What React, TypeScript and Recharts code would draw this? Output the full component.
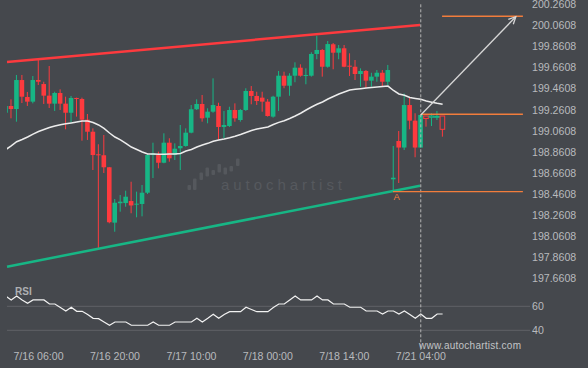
import React from 'react';
import { ComposedChart, Bar, Line, XAxis, YAxis, ReferenceLine, ReferenceDot } from 'recharts';

// hourly bars, index 0 = 7/16 06:00
const barIndex = Array.from({ length: 81 }, (_, k) => k - 6);

const open = [
  199.233, 199.297, 199.268, 199.543, 199.382, 199.338, 199.543, 199.505, 199.395, 199.319,
  199.420, 199.319, 199.233, 199.373, 199.363, 199.167, 199.053, 198.839, 198.830, 198.716,
  198.191, 198.375, 198.377, 198.396, 198.365, 198.368, 198.475, 198.832, 198.832, 198.759,
  198.949, 198.832, 198.896, 198.918, 199.044, 199.266, 199.316, 199.186, 199.243, 199.297,
  199.098, 199.107, 199.259, 199.164, 199.259, 199.439, 199.392, 199.376, 199.338, 199.196,
  199.385, 199.584, 199.489, 199.584, 199.660, 199.584, 199.584, 199.790, 199.828, 199.669,
  199.882, 199.802, 199.844, 199.679, 199.669, 199.600, 199.629, 199.537, 199.575, 199.612,
  199.527, 198.602, 198.965, 198.903, 199.306, 199.158, 198.903, 199.202, 199.190, 199.190,
  199.202,
];
const high = [
  199.316, 199.360, 199.591, 199.591, 199.430, 199.581, 199.738, 199.527, 199.676, 199.432,
  199.455, 199.385, 199.392, 199.376, 199.376, 199.221, 199.085, 198.934, 199.022, 198.719,
  198.415, 198.453, 198.494, 198.579, 198.485, 198.548, 198.842, 198.949, 198.864, 199.038,
  198.991, 198.943, 199.117, 199.085, 199.306, 199.360, 199.401, 199.275, 199.559, 199.328,
  199.250, 199.290, 199.322, 199.268, 199.465, 199.486, 199.432, 199.432, 199.363, 199.394,
  199.629, 199.622, 199.607, 199.711, 199.692, 199.654, 199.806, 199.963, 199.837, 199.913,
  199.894, 199.875, 199.875, 199.796, 199.733, 199.654, 199.638, 199.612, 199.638, 199.638,
  199.686, 198.918, 199.060, 199.415, 199.382, 199.228, 199.216, 199.202, 199.228, 199.250,
  199.202,
];
const low = [
  199.221, 199.180, 199.148, 199.325, 199.297, 199.322, 199.496, 199.316, 199.278, 199.250,
  199.259, 199.076, 199.139, 199.196, 198.968, 198.975, 198.690, 197.948, 198.662, 198.185,
  198.105, 198.295, 198.342, 198.280, 198.242, 198.251, 198.463, 198.614, 198.706, 198.754,
  198.769, 198.785, 198.690, 198.911, 199.038, 199.259, 199.148, 199.133, 199.233, 198.981,
  198.991, 199.098, 199.148, 199.148, 199.250, 199.313, 199.306, 199.243, 199.196, 199.186,
  199.250, 199.465, 199.394, 199.522, 199.575, 199.503, 199.575, 199.740, 199.575, 199.660,
  199.645, 199.740, 199.664, 199.581, 199.543, 199.480, 199.465, 199.480, 199.527, 199.480,
  199.496, 198.486, 198.567, 198.880, 199.076, 198.811, 198.903, 199.101, 199.107, 199.164,
  199.006,
];
const close = [
  199.297, 199.268, 199.543, 199.385, 199.338, 199.543, 199.527, 199.395, 199.319, 199.420,
  199.319, 199.233, 199.373, 199.363, 199.167, 199.053, 198.832, 198.830, 198.716, 198.195,
  198.380, 198.390, 198.437, 198.354, 198.371, 198.475, 198.832, 198.847, 198.759, 198.949,
  198.801, 198.892, 198.918, 199.044, 199.266, 199.316, 199.180, 199.243, 199.306, 199.098,
  199.117, 199.259, 199.180, 199.259, 199.439, 199.392, 199.344, 199.338, 199.202, 199.385,
  199.584, 199.489, 199.584, 199.660, 199.584, 199.591, 199.790, 199.828, 199.669, 199.884,
  199.802, 199.844, 199.669, 199.669, 199.600, 199.629, 199.537, 199.575, 199.612, 199.527,
  199.638, 198.617, 198.903, 199.306, 199.158, 198.903, 199.212, 199.178, 199.202, 199.199,
  199.076,
];
const movingAvg = [
  198.884, 198.918, 198.958, 198.979, 199.003, 199.031, 199.055, 199.074, 199.093, 199.107,
  199.120, 199.128, 199.136, 199.145, 199.155, 199.155, 199.140, 199.117, 199.084, 199.041,
  199.003, 198.975, 198.943, 198.908, 198.884, 198.861, 198.842, 198.842, 198.839, 198.839,
  198.842, 198.842, 198.847, 198.870, 198.884, 198.908, 198.927, 198.943, 198.962, 198.975,
  198.984, 198.996, 199.010, 199.027, 199.046, 199.065, 199.079, 199.088, 199.098, 199.121,
  199.142, 199.157, 199.178, 199.202, 199.228, 199.259, 199.287, 199.313, 199.335, 199.363,
  199.387, 199.411, 199.430, 199.449, 199.455, 199.461, 199.467, 199.472, 199.477, 199.482,
  199.486, 199.444, 199.411, 199.398, 199.377, 199.368, 199.360, 199.344, 199.333, 199.322,
  199.313,
];
const rsi = [
  68.6, 65.3, 68.6, 65.3, 62.5, 65.3, 65.3, 65.3, 61.9, 61.9,
  59.0, 56.1, 59.2, 55.8, 55.8, 53.1, 50.0, 49.7, 46.9, 44.2,
  46.9, 46.9, 46.9, 44.2, 44.2, 44.2, 44.2, 46.9, 44.2, 44.2,
  44.2, 46.9, 46.9, 46.9, 46.9, 50.0, 46.9, 50.0, 53.3, 50.0,
  53.2, 55.5, 55.5, 55.5, 59.2, 57.3, 55.5, 55.5, 55.5, 59.0,
  61.9, 61.9, 65.3, 68.6, 65.3, 65.3, 65.3, 68.6, 65.3, 65.3,
  61.9, 61.9, 61.9, 59.2, 59.2, 59.2, 56.1, 56.1, 56.1, 53.6,
  56.1, 56.1, 53.6, 56.1, 53.2, 50.0, 53.6, 50.0, 50.0, 53.6,
  53.6,
];

const timeTicks = [0, 14, 28, 42, 56, 70];
const timeLabels = ['7/16 06:00', '7/16 20:00', '7/17 10:00', '7/18 00:00', '7/18 14:00', '7/21 04:00'];
const priceTicks = [
  197.6608, 197.8608, 198.0608, 198.2608, 198.4608, 198.6608, 198.8608,
  199.0608, 199.2608, 199.4608, 199.6608, 199.8608, 200.0608, 200.2608,
];
const rsiLevels = [60, 40];

// channel / pattern lines (bar index, price)
const resistance = [{ x: -5.77, y: 199.714 }, { x: 69.87, y: 200.065 }];
const support = [{ x: -5.77, y: 197.774 }, { x: 69.87, y: 198.541 }];
const pointA = { x: 65.6, y: 198.4846 };
const targetLine = [{ x: 73.9, y: 200.147 }, { x: 88.7, y: 200.147 }];
const lastLine = [{ x: 70, y: 199.2182 }, { x: 88.7, y: 199.2182 }];
const aLine = [{ x: 64.9, y: 198.4846 }, { x: 88.7, y: 198.4846 }];
const arrow = [{ x: 70, y: 199.2116 }, { x: 87.4, y: 200.1433 }];
const nowBar = 70;

const data = barIndex.map((i, k) => ({
  i,
  open: open[k],
  high: high[k],
  low: low[k],
  close: close[k],
  ma: movingAvg[k],
  rsi: rsi[k],
}));

const BG = '#45484d';
const RED = '#fd3a3e';
const GREEN = '#17b685';
const ORANGE = '#f27d3c';
const LABEL = '#b8babd';

const Candle = (props: any) => {
  const { x, y, width, height, payload } = props;
  if (!payload) return null;
  const { open: o, close: c, high: h, low: l, i } = payload;
  const top = Math.min(y, y + height);
  const span = Math.abs(height) || 1;
  const px = (v: number) => top + ((h - v) / (h - l || 1)) * span;
  const up = c >= o;
  const color = up ? GREEN : RED;
  const cx = x + width / 2;
  const bTop = px(Math.max(o, c));
  const bBot = px(Math.min(o, c));
  const bw = 4.6;
  const hollow = i > nowBar;
  return (
    <g>
      <line x1={cx} x2={cx} y1={top} y2={top + span} stroke={color} strokeWidth={1} />
      <rect
        x={cx - bw / 2}
        y={bTop}
        width={bw}
        height={Math.max(bBot - bTop, 1)}
        fill={hollow ? BG : color}
        stroke={hollow ? color : 'none'}
        strokeWidth={1}
      />
    </g>
  );
};

const Arrow = (p: any) => {
  const { x1, y1, x2, y2 } = p;
  const ang = Math.atan2(y2 - y1, x2 - x1);
  const len = 8;
  const a1 = ang + Math.PI - 0.45;
  const a2 = ang + Math.PI + 0.45;
  return (
    <g stroke="#d6d6d6" strokeWidth={1.3} fill="none">
      <line x1={x1} y1={y1} x2={x2} y2={y2} />
      <polyline
        points={`${x2 + len * Math.cos(a1)},${y2 + len * Math.sin(a1)} ${x2},${y2} ${x2 + len * Math.cos(a2)},${y2 + len * Math.sin(a2)}`}
      />
    </g>
  );
};

const App: React.FC = () => {
  return (
    <div style={{ position: 'absolute', left: 0, top: 0, width: 588, height: 368, background: BG, fontFamily: '"Liberation Sans", Arial, sans-serif' }}>
      {/* watermark behind the chart */}
      <svg width={588} height={368} style={{ position: 'absolute', left: 0, top: 0 }}>
        <g fill="#55585d">
          <rect x={187.5} y={185} width={3.5} height={5} rx={1} />
          <rect x={193} y={178.5} width={3.5} height={11.5} rx={1} />
          <rect x={199.5} y={172.5} width={3.5} height={7.5} rx={1} />
          <rect x={205.5} y={167.5} width={3.5} height={9} rx={1} />
          <rect x={211.5} y={170} width={3.5} height={5} rx={1} />
          <rect x={217.5} y={164} width={3.5} height={8.5} rx={1} />
          <rect x={223.5} y={167.5} width={3.5} height={7} rx={1} />
          <rect x={229.5} y={166} width={3.5} height={5.5} rx={1} />
          <rect x={236} y={158.5} width={3.5} height={7.5} rx={1} />
        </g>
        <text x={221} y={190} fill="#56595e" fontSize={15} textLength={121} lengthAdjust="spacing">autochartist</text>
      </svg>
      <div style={{ position: 'absolute', left: 0, top: 0 }}>
        <ComposedChart width={588} height={368} data={data} margin={{ top: 0, right: 0, bottom: 0, left: 7 }}>
          <XAxis
            dataKey="i"
            type="number"
            domain={[-5.77, 90]}
            allowDataOverflow
            ticks={timeTicks}
            tickFormatter={(v: number) => timeLabels[timeTicks.indexOf(v)] ?? ''}
            axisLine={false}
            tickLine={false}
            tickSize={0}
            tickMargin={7}
            height={23}
            tick={{ fill: LABEL, fontSize: 10.6 }}
          />
          <YAxis
            yAxisId="p"
            orientation="right"
            domain={[197.0314, 200.3016]}
            allowDataOverflow
            ticks={priceTicks}
            tickFormatter={(v: number) => v.toFixed(4)}
            axisLine={false}
            tickLine={false}
            tickSize={0}
            tickMargin={2}
            width={58}
            interval={0}
            tick={{ fill: LABEL, fontSize: 10.6 }}
          />
          <YAxis yAxisId="r" hide domain={[27.75, 315.25]} allowDataOverflow />

          {rsiLevels.map((lv) => (
            <ReferenceLine
              key={lv}
              yAxisId="r"
              y={lv}
              stroke="#5f6267"
              strokeWidth={1}
              label={{ value: String(lv), position: 'right', fill: LABEL, fontSize: 10.6, offset: 2 }}
            />
          ))}

          <ReferenceLine yAxisId="p" segment={resistance} stroke={RED} strokeWidth={2.5} ifOverflow="visible" />
          <ReferenceLine yAxisId="p" segment={support} stroke={GREEN} strokeWidth={2.5} ifOverflow="visible" />

          <Bar
            yAxisId="p"
            dataKey={(d: any) => [d.low, d.high]}
            barSize={5}
            shape={<Candle />}
            isAnimationActive={false}
          />
          <Line yAxisId="p" dataKey="ma" stroke="#ececec" strokeWidth={1.5} dot={false} isAnimationActive={false} />
          <Line yAxisId="r" dataKey="rsi" stroke="#f2f2f2" strokeWidth={1.2} dot={false} isAnimationActive={false} />

          <ReferenceLine
            yAxisId="p"
            segment={[{ x: nowBar, y: 200.2608 }, { x: nowBar, y: 196.984 }]}
            stroke="#b5b5b5"
            strokeDasharray="3 2"
            ifOverflow="visible"
          />
          <ReferenceLine yAxisId="p" segment={targetLine} stroke={ORANGE} strokeWidth={1.5} ifOverflow="visible" />
          <ReferenceLine yAxisId="p" segment={lastLine} stroke={ORANGE} strokeWidth={1.5} ifOverflow="visible" />
          <ReferenceLine yAxisId="p" segment={aLine} stroke={ORANGE} strokeWidth={1.2} ifOverflow="visible" />
          <ReferenceLine yAxisId="p" segment={arrow} shape={<Arrow />} ifOverflow="visible" />
          <ReferenceDot
            yAxisId="p"
            x={pointA.x}
            y={pointA.y}
            r={0}
            stroke="none"
            fill="none"
            label={{ value: 'A', position: 'bottom', fill: ORANGE, fontSize: 9.5, offset: 2 }}
          />
        </ComposedChart>
      </div>
      <svg width={588} height={368} style={{ position: 'absolute', left: 0, top: 0, pointerEvents: 'none' }}>
        <text x={15} y={295} fill="#aeb0b3" fontSize={10} fontWeight="bold">RSI</text>
        <text x={419} y={349} fill="#c2c4c6" fontSize={10} letterSpacing={0.25}>www.autochartist.com</text>
      </svg>
    </div>
  );
};

export default App;
